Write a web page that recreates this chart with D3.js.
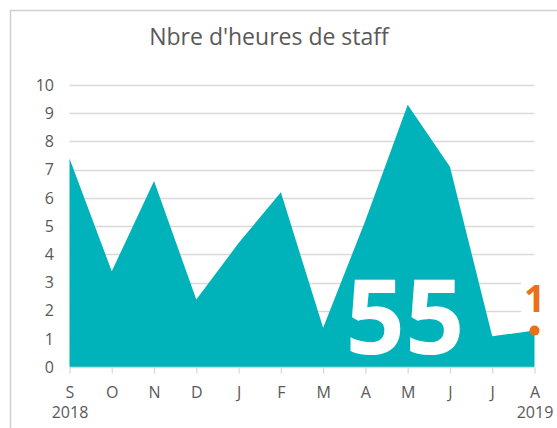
<!DOCTYPE html>
<html><head><meta charset="utf-8">
<script src="https://cdn.jsdelivr.net/npm/d3@7"></script>
<style>body{margin:0;background:#fff}svg{display:block}text{font-family:"Open Sans",sans-serif}</style>
</head><body>
<svg id="c" width="557" height="428"></svg>
<script>
const title = "Nbre d'heures de staff";
const months = ["S","O","N","D","J","F","M","A","M","J","J","A"];
const years = ["2018","","","","","","","","","","","2019"];
const values = [7.4, 3.4, 6.6, 2.4, 4.4, 6.2, 1.4, 5.2, 9.3, 7.1, 1.1, 1.3];
const yTicks = [0,1,2,3,4,5,6,7,8,9,10];
const totalLabel = "55";
const lastLabel = "1";

const svg = d3.select("#c");
const teal = "#00B2B9", orange = "#E8711A", grey = "#595959", grid = "#D9D9D9";

svg.append("rect").attr("x",10.5).attr("y",10.5).attr("width",700).attr("height",700)
  .attr("fill","none").attr("stroke","#D0D0D0").attr("stroke-width",1.5);

const x = d3.scalePoint().domain(d3.range(months.length)).range([69.5, 534.5]);
const y = d3.scaleLinear().domain([0,10]).range([367.3, 85]);

svg.append("text").attr("x",269).attr("y",45).attr("text-anchor","middle")
  .attr("font-size",23).attr("fill",grey).text(title);

// gridlines
svg.append("g").selectAll("line").data(yTicks.filter(d=>d>0)).join("line")
  .attr("x1",69.5).attr("x2",534.5)
  .attr("y1",d=>Math.round(y(d))+0.5).attr("y2",d=>Math.round(y(d))+0.5)
  .attr("stroke",grid).attr("stroke-width",1.3);

// y axis labels
const yAxis = d3.axisLeft(y).tickValues(yTicks).tickSize(0).tickPadding(0).tickFormat(d3.format("d"));
const gy = svg.append("g").attr("transform","translate(54,0)").call(yAxis);
gy.select(".domain").remove();
gy.selectAll("text").attr("font-size",16).attr("fill",grey).attr("font-family","Open Sans");

// area
const area = d3.area().x((d,i)=>x(i)).y0(y(0)).y1(d=>y(d));
svg.append("path").datum(values).attr("d",area).attr("fill",teal);

// x axis
const xAxis = d3.axisBottom(x).tickSize(6).tickPadding(13).tickFormat(i=>months[i]);
const gx = svg.append("g").attr("transform",`translate(0,${Math.round(y(0))+0.5})`).call(xAxis);
gx.select(".domain").attr("stroke",grid).attr("stroke-width",1.5).attr("d",`M69.5,0H534.5`);
gx.selectAll(".tick line").attr("stroke",grid).attr("stroke-width",1.3);
gx.selectAll("text").attr("font-size",16).attr("fill",grey).attr("font-family","Open Sans");
gx.selectAll(".tick").filter(i=>years[i]).append("text").attr("y",50.5).attr("text-anchor","middle")
  .attr("font-size",16).attr("fill",grey).attr("font-family","Open Sans").text(i=>years[i]);

// total label
svg.append("text").attr("x",405).attr("y",354).attr("text-anchor","middle")
  .attr("font-size",104).attr("font-weight","bold").attr("fill","#fff").text(totalLabel);

// last point
const li = values.length-1;
svg.append("rect").attr("x",521).attr("y",276).attr("width",30).attr("height",42).attr("fill","#fff");
svg.append("circle").attr("cx",x(li)).attr("cy",y(values[li])).attr("r",5).attr("fill",orange);
svg.append("text").attr("x",x(li)).attr("y",312).attr("text-anchor","middle")
  .attr("font-size",37).attr("font-weight","bold").attr("fill",orange).text(lastLabel);
</script>
</body></html>
